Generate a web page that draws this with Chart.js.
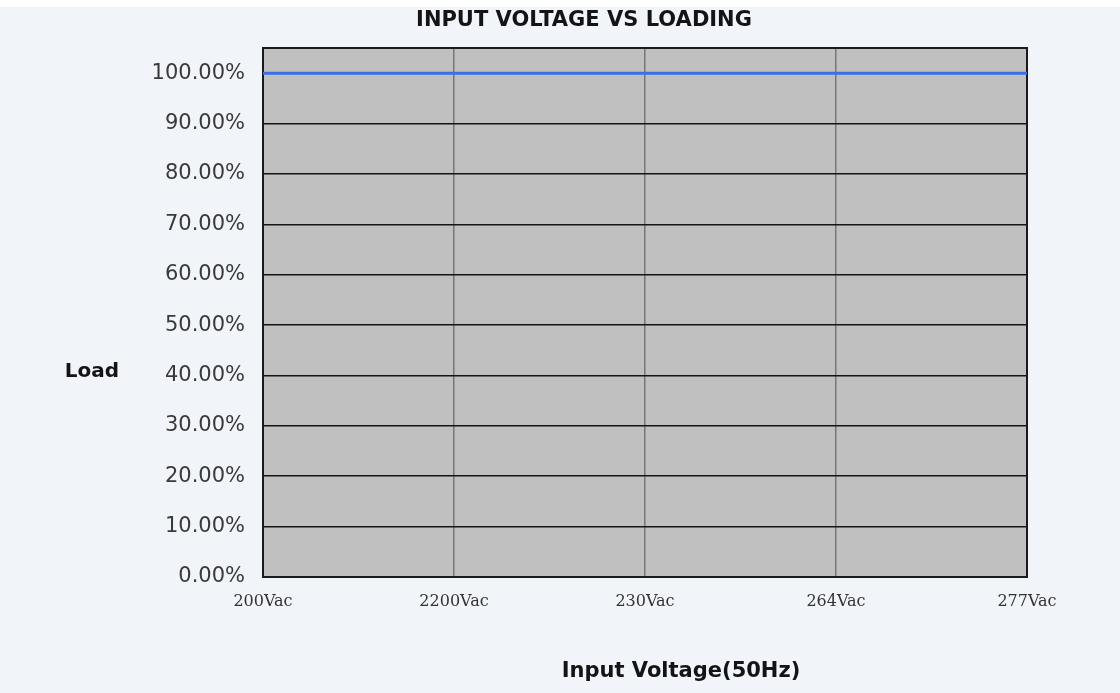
<!DOCTYPE html>
<html>
<head>
<meta charset="utf-8">
<script src="https://cdn.jsdelivr.net/npm/chart.js@4"></script>
<style>
  html, body { margin: 0; padding: 0; background: #f1f4f9; }
  #wrap { position: relative; width: 1120px; height: 693px; }
  #topband { position: absolute; left: 0; top: 0; width: 1120px; height: 7px; background: #ffffff; }
  canvas { display: block; }
</style>
</head>
<body>
<div id="wrap">
  <canvas id="c" width="1120" height="693"></canvas>
  <div id="topband"></div>
</div>
<script>
// ---- data ----
const categories = ['200Vac', '2200Vac', '230Vac', '264Vac', '277Vac'];
const loadValues = [100, 100, 100, 100, 100];
const yMin = 0;
const yMax = 105;
const yStep = 10;
const chartTitle = 'INPUT VOLTAGE VS LOADING';
const yTitle = 'Load';
const xTitle = 'Input Voltage(50Hz)';

const plotFrame = {
  id: 'plotFrame',
  beforeDraw(chart) {
    const a = chart.chartArea, ctx = chart.ctx;
    ctx.save();
    ctx.fillStyle = '#c0c0c0';
    ctx.fillRect(a.left, a.top, a.right - a.left, a.bottom - a.top);
    ctx.restore();
  },
  beforeDatasetsDraw(chart) {
    const a = chart.chartArea, ctx = chart.ctx;
    ctx.save();
    ctx.strokeStyle = '#1a1a1a';
    ctx.lineWidth = 2;
    ctx.strokeRect(a.left, a.top, a.right - a.left, a.bottom - a.top);
    ctx.restore();
  },
  afterDraw(chart) {
    const ctx = chart.ctx;
    ctx.save();
    ctx.fillStyle = '#141414';
    ctx.font = 'bold 20px "DejaVu Sans"';
    ctx.textAlign = 'center';
    ctx.textBaseline = 'middle';
    ctx.fillText(yTitle, 92, 372);
    ctx.font = 'bold 21px "DejaVu Sans"';
    ctx.fillText(xTitle, 681, 672);
    ctx.restore();
  }
};

new Chart(document.getElementById('c'), {
  type: 'line',
  data: {
    labels: categories,
    datasets: [{
      label: 'Load',
      data: loadValues,
      borderColor: '#3c6ee8',
      borderWidth: 3,
      pointRadius: 0,
      fill: false,
      tension: 0
    }]
  },
  options: {
    responsive: false,
    animation: false,
    devicePixelRatio: 1,
    layout: { padding: { left: 141, right: 93, top: 0, bottom: 0 } },
    plugins: {
      legend: { display: false },
      tooltip: { enabled: false },
      title: {
        display: true,
        text: chartTitle,
        color: '#141414',
        font: { family: '"DejaVu Sans"', size: 21, weight: 'bold', lineHeight: 1.2 },
        padding: { top: 8, bottom: 14.8 }
      }
    },
    scales: {
      x: {
        type: 'category',
        offset: false,
        border: { display: false },
        grid: {
          drawTicks: false,
          lineWidth: 1.5,
          color: (ctx) => (ctx.index === 0 || ctx.index === categories.length - 1) ? 'rgba(0,0,0,0)' : '#777777'
        },
        ticks: {
          autoSkip: false,
          maxRotation: 0,
          minRotation: 0,
          padding: 15,
          color: '#333333',
          font: { family: '"DejaVu Serif"', size: 16 }
        },
        afterFit(scale) { scale.height = 116; }
      },
      y: {
        min: yMin,
        max: yMax,
        border: { display: false },
        grid: {
          drawTicks: false,
          lineWidth: 1.5,
          color: '#151515'
        },
        ticks: {
          stepSize: yStep,
          includeBounds: false,
          padding: 18,
          color: '#3a3a3a',
          font: { family: '"DejaVu Sans"', size: 21 },
          callback: (v) => Number(v).toFixed(2) + '%'
        },
        afterFit(scale) { scale.width = 122; }
      }
    }
  },
  plugins: [plotFrame]
});
</script>
</body>
</html>
